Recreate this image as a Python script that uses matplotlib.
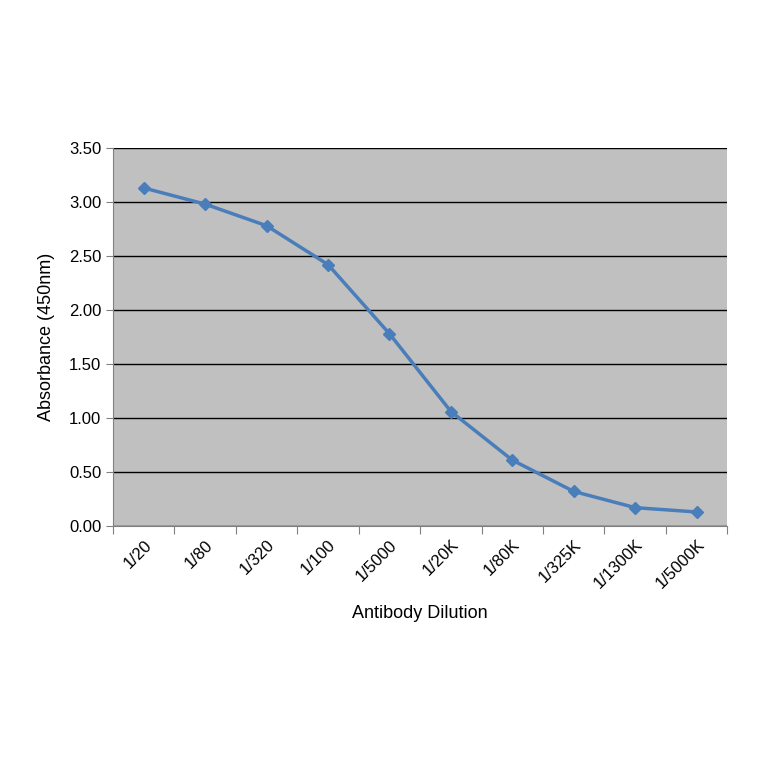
import matplotlib
matplotlib.use("Agg")
import matplotlib.pyplot as plt
import numpy as np

plt.rcParams['font.family'] = ['Liberation Sans', 'DejaVu Sans']

categories = ["1/20", "1/80", "1/320", "1/100", "1/5000", "1/20K", "1/80K", "1/325K", "1/1300K", "1/5000K"]
absorbance = [3.13, 2.98, 2.78, 2.42, 1.78, 1.06, 0.61, 0.32, 0.17, 0.13]

fig = plt.figure(figsize=(7.64, 7.64), dpi=100)
ax = fig.add_axes([0.148, 0.3115, 0.804, 0.4948])
ax.set_facecolor('#c0c0c0')
x = np.arange(len(categories))
ax.plot(x, absorbance, color='#4a7ebb', lw=2.5, marker='D', ms=6, zorder=3)
ax.set_xlim(-0.5, len(categories) - 0.5)
ax.set_ylim(0, 3.5)
ax.set_yticks(np.arange(0, 3.51, 0.5))
ax.set_yticklabels([f"{v:.2f}" for v in np.arange(0, 3.51, 0.5)], fontsize=12)
ax.yaxis.grid(True, color='black', lw=1)
ax.set_axisbelow(True)
ax.set_xticks(np.arange(-0.5, len(categories)), minor=False)
ax.set_xticklabels([])
ax.set_xticks(x, minor=True)
ax.set_xticklabels(categories, minor=True, rotation=45, ha='right', rotation_mode='anchor', fontsize=12)
ax.tick_params(axis='x', which='minor', length=0, pad=8)
ax.tick_params(axis='x', which='major', length=6, direction='out', color='#808080')
ax.tick_params(axis='y', length=5, direction='out', color='#808080')
for s in ['top', 'right']:
    ax.spines[s].set_visible(False)
for s in ['left', 'bottom']:
    ax.spines[s].set_color('#808080')
ax.set_xlabel('Antibody Dilution', fontsize=13, labelpad=10)
ax.set_ylabel('Absorbance (450nm)', fontsize=13, labelpad=10)
fig.savefig('out.png', dpi=100, facecolor='white')
